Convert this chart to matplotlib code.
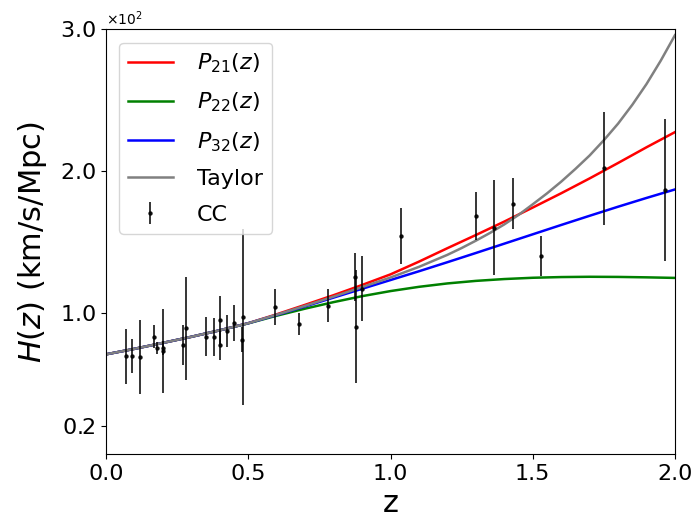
import numpy as np
import matplotlib
matplotlib.use("Agg")
import matplotlib.pyplot as plt
from matplotlib.ticker import ScalarFormatter

# model curves, values (km/s/Mpc)
z_model = [0.0, 0.1, 0.2, 0.3, 0.4, 0.5, 0.6, 0.7, 0.8, 0.9, 1.0,
           1.1, 1.2, 1.3, 1.4, 1.5, 1.6, 1.7, 1.8, 1.9, 2.0]
H_p21 = [70.5, 74.4, 78.6, 82.9, 87.5, 92.5, 98.8, 105.5, 112.3, 119.5, 127.0,
         136.0, 145.5, 154.8, 164.3, 174.2, 184.3, 194.8, 205.7, 216.8, 227.5]
H_p22 = [70.5, 74.4, 78.6, 82.9, 87.5, 92.4, 97.8, 102.8, 107.4, 111.6, 115.2,
         118.2, 120.6, 122.4, 123.7, 124.6, 125.1, 125.3, 125.2, 124.9, 124.5]
H_p32 = [70.5, 74.4, 78.6, 82.9, 87.5, 92.5, 98.3, 104.4, 110.6, 116.8, 123.0,
         129.2, 135.6, 142.1, 148.7, 155.3, 161.9, 168.4, 174.8, 181.0, 187.0]

# Taylor curve bends hard at high z, so read it on a finer grid
z_taylor = [0.0, 0.1, 0.2, 0.3, 0.4, 0.5, 0.6, 0.7, 0.8, 0.9, 1.0, 1.1,
            1.2, 1.25, 1.3, 1.35, 1.4, 1.45, 1.5, 1.55, 1.6, 1.65, 1.7,
            1.75, 1.8, 1.85, 1.9, 1.95, 2.0]
H_taylor = [70.5, 74.4, 78.6, 82.9, 87.5, 92.5, 98.5, 104.8, 111.3, 118.0, 124.8, 132.3,
            140.8, 145.6, 150.8, 156.3, 162.3, 169.0, 176.5, 184.2, 192.5, 201.5, 211.0,
            221.8, 233.5, 246.8, 261.5, 278.0, 296.0]

# cosmic chronometer points
z_cc = [0.07, 0.09, 0.12, 0.17, 0.179, 0.199, 0.2, 0.27, 0.28, 0.352, 0.38,
        0.4, 0.4004, 0.4247, 0.4497, 0.4783, 0.48, 0.593, 0.68, 0.781, 0.875,
        0.88, 0.9, 1.037, 1.3, 1.363, 1.43, 1.53, 1.75, 1.965]
H_cc = [69.0, 69.0, 68.6, 83.0, 75.0, 75.0, 72.9, 77.0, 88.8, 83.0, 83.0,
        95.0, 77.0, 87.1, 92.8, 80.9, 97.0, 104.0, 92.0, 105.0, 125.0,
        90.0, 117.0, 154.0, 168.0, 160.0, 177.0, 140.0, 202.0, 186.5]
err_cc = [19.6, 12.0, 26.2, 8.0, 4.0, 5.0, 29.6, 14.0, 36.6, 14.0, 13.5,
          17.0, 10.2, 11.2, 12.9, 9.0, 62.0, 13.0, 8.0, 12.0, 17.0,
          40.0, 23.0, 20.0, 17.0, 33.6, 18.0, 14.0, 40.0, 50.4]

fig = plt.figure(figsize=(6.93, 5.22), dpi=100)
ax = fig.add_axes([0.153, 0.130, 0.821, 0.8135])

ax.plot(z_model, H_p21, color='r', lw=1.8, label=r'$P_{21}(z)$')
ax.plot(z_model, H_p22, color='g', lw=1.8, label=r'$P_{22}(z)$')
ax.plot(z_model, H_p32, color='b', lw=1.8, label=r'$P_{32}(z)$')
ax.plot(z_taylor, H_taylor, color='gray', lw=1.8, label='Taylor')
ax.errorbar(z_cc, H_cc, yerr=err_cc, fmt='o', color='k', ms=2.2,
            elinewidth=1.3, capsize=0, alpha=0.85, label='CC')

ax.set_xlim(0, 2)
ax.set_ylim(0, 300)
ax.set_xticks([0.0, 0.5, 1.0, 1.5, 2.0])
ax.set_yticks([20, 100, 200, 300])
fmt = ScalarFormatter(useMathText=True)
fmt.set_powerlimits((0, 0))
ax.yaxis.set_major_formatter(fmt)
ax.tick_params(labelsize=16)
ax.yaxis.get_offset_text().set_fontsize(10)

ax.set_xlabel('z', fontsize=22)
ax.set_ylabel(r'$H(z)$ (km/s/Mpc)', fontsize=22, labelpad=8)
ax.legend(loc='upper left', fontsize=16, labelspacing=0.7,
          handletextpad=1.1, borderaxespad=0.6)

fig.savefig('out.png', dpi=100)
